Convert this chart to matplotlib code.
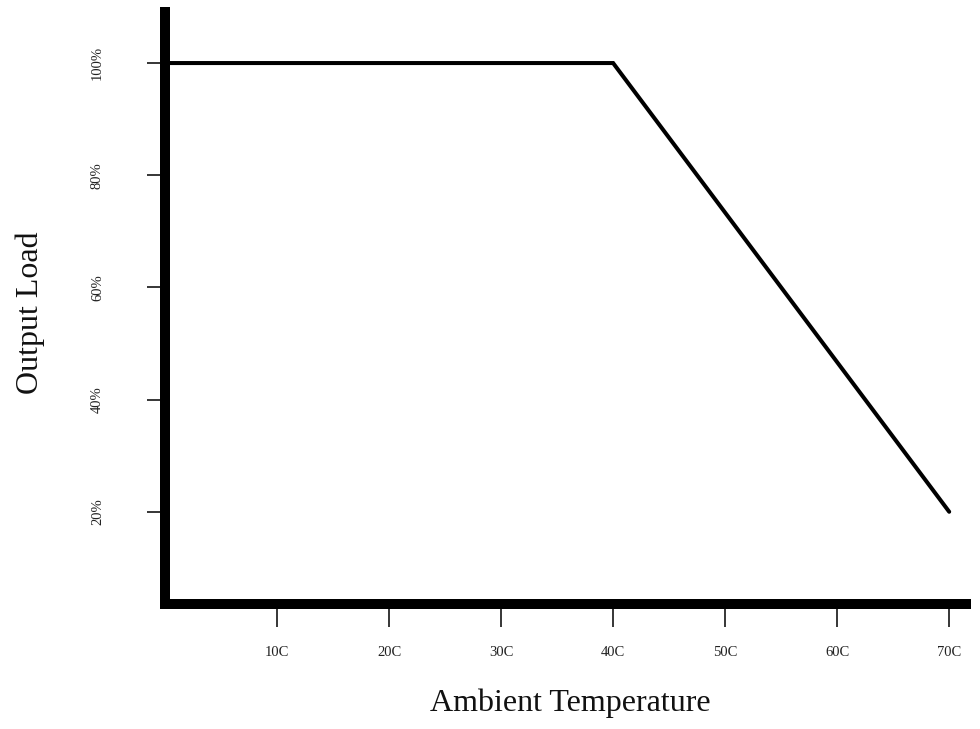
import matplotlib
matplotlib.use('Agg')
import matplotlib.pyplot as plt

plt.rcParams['font.family'] = ['Liberation Serif', 'DejaVu Serif']

# derating curve
temps = [0, 40, 70]
load = [100, 100, 20]

x_ticks = [10, 20, 30, 40, 50, 60, 70]
x_labels = ['10C', '20C', '30C', '40C', '50C', '60C', '70C']
y_ticks = [20, 40, 60, 80, 100]
y_labels = ['20%', '40%', '60%', '80%', '100%']

fig = plt.figure(figsize=(9.8, 7.29), dpi=100)
ax = fig.add_axes([165 / 980, 125 / 729, 801 / 980, 592 / 729])

ax.plot(temps, load, color='black', lw=2.9, solid_joinstyle='miter',
        solid_capstyle='round', zorder=2)

ax.set_xlim(0, 71.5)
ax.set_ylim(3.56, 109.1)

for side in ['top', 'right']:
    ax.spines[side].set_visible(False)
for side in ['left', 'bottom']:
    ax.spines[side].set_linewidth(7.2)
    ax.spines[side].set_zorder(3)

ax.set_xticks(x_ticks)
ax.set_xticklabels(x_labels, fontsize=10.5, color='#222222')
ax.set_yticks(y_ticks)
ax.set_yticklabels(y_labels, fontsize=10.5, color='#222222', rotation=90, va='center')

ax.tick_params(axis='x', direction='out', length=16.5, width=1.1, pad=14)
ax.tick_params(axis='y', direction='out', length=13, width=1.1, pad=31)

ax.set_xlabel('Ambient Temperature', fontsize=23, color='#111111', va='center')
ax.xaxis.set_label_coords(0.5056, -0.167)
ax.set_ylabel('Output Load', fontsize=23, color='#111111', va='center')
ax.yaxis.set_label_coords(-0.168, 0.4916)

plt.savefig('out.png', dpi=100)
plt.close(fig)
